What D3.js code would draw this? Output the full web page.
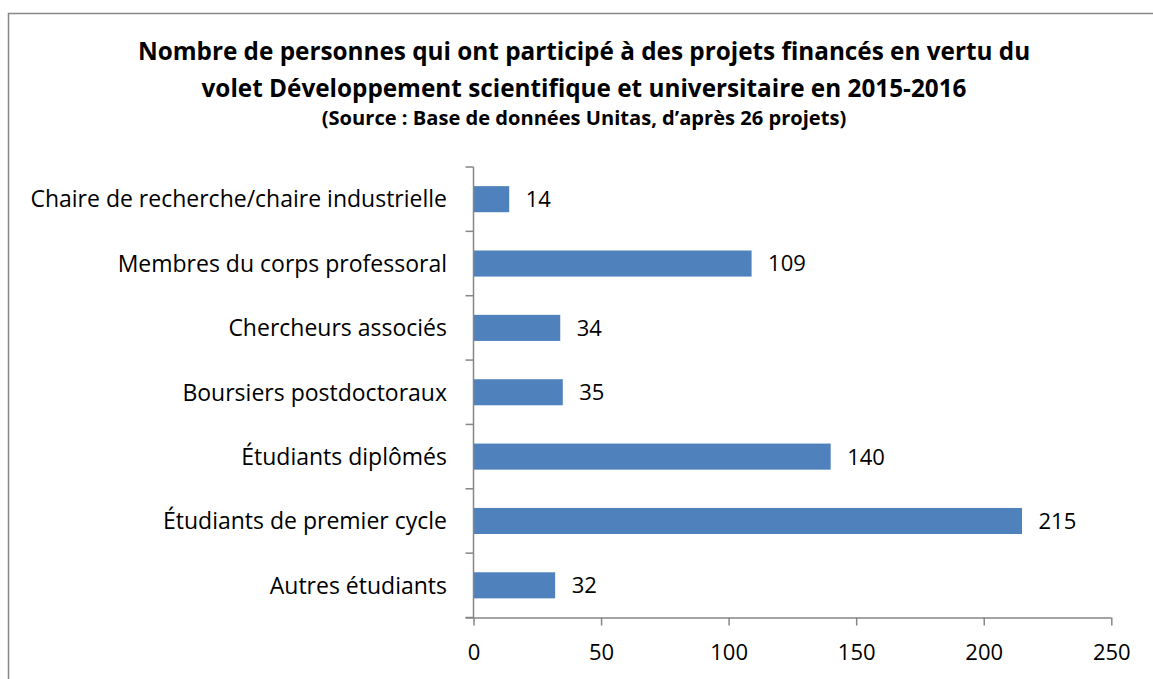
<!DOCTYPE html>
<html><head><meta charset="utf-8">
<script src="https://cdn.jsdelivr.net/npm/d3@7/dist/d3.min.js"></script>
<style>body{margin:0;background:#fff;} svg{display:block;}</style>
</head><body>
<svg id="c" width="1153" height="679"></svg>
<script>
const categories = ["Chaire de recherche/chaire industrielle","Membres du corps professoral","Chercheurs associés","Boursiers postdoctoraux","Étudiants diplômés","Étudiants de premier cycle","Autres étudiants"];
const values = [14,109,34,35,140,215,32];
const xTicks = [0,50,100,150,200,250];
const titleLines = ["Nombre de personnes qui ont participé à des projets financés en vertu du","volet Développement scientifique et universitaire en 2015-2016"];
const subtitle = "(Source : Base de données Unitas, d’après 26 projets)";

(function(){
const font = "'Open Sans', sans-serif";
const svg = d3.select("#c");
svg.append("rect").attr("x",8.5).attr("y",13.5).attr("width",1160).attr("height",700)
  .attr("fill","#fff").attr("stroke","#868686").attr("stroke-width",1.5);

const pLeft=473.5, pRight=1111.3, pTop=167, pBottom=617.5;
const x = d3.scaleLinear().domain([0,250]).range([pLeft,pRight]);
const y = d3.scaleBand().domain(categories).range([pTop,pBottom]).paddingInner(0.595).paddingOuter(0.2975);

svg.selectAll("rect.bar").data(values).join("rect").attr("class","bar")
  .attr("x",x(0)).attr("y",(d,i)=>y(categories[i]))
  .attr("width",d=>x(d)-x(0)).attr("height",y.bandwidth()).attr("fill","#4F81BD");

svg.selectAll("text.val").data(values).join("text").attr("class","val")
  .attr("x",d=>x(d)+16.5).attr("y",(d,i)=>y(categories[i])+y.bandwidth()/2)
  .attr("dy","0.36em").attr("font-family",font).attr("font-size",22).attr("fill","#000").text(d=>d);

const ya = svg.append("g");
ya.append("line").attr("x1",pLeft).attr("x2",pLeft).attr("y1",pTop).attr("y2",pBottom).attr("stroke","#868686").attr("stroke-width",1.5);
const step = y.step();
d3.range(categories.length+1).forEach(i=>{
  const yy = pTop + i*step;
  ya.append("line").attr("x1",pLeft-8).attr("x2",pLeft).attr("y1",yy).attr("y2",yy).attr("stroke","#868686").attr("stroke-width",1.5);
});
svg.selectAll("text.cat").data(categories).join("text").attr("class","cat")
  .attr("x",447).attr("y",d=>y(d)+y.bandwidth()/2).attr("dy","0.36em")
  .attr("text-anchor","end").attr("font-family",font).attr("font-size",23).attr("fill","#000").text(d=>d);

const xa = svg.append("g").attr("transform",`translate(0,${pBottom})`)
  .call(d3.axisBottom(x).tickValues(xTicks).tickSize(8).tickSizeOuter(0).tickPadding(19));
xa.select(".domain").attr("stroke","#868686").attr("stroke-width",1.5).attr("d",`M${pLeft-8},0.5H${pRight}`);
xa.selectAll(".tick line").attr("stroke","#868686").attr("stroke-width",1.5);
xa.selectAll(".tick text").attr("font-family",font).attr("font-size",22).attr("fill","#000");

titleLines.forEach((t,i)=>{
  svg.append("text").attr("x",584).attr("y",60+i*37).attr("text-anchor","middle")
    .attr("font-family",font).attr("font-weight","bold").attr("font-size",24.3).attr("fill","#000").text(t);
});
svg.append("text").attr("x",584).attr("y",125).attr("text-anchor","middle")
  .attr("font-family",font).attr("font-weight","bold").attr("font-size",20.1).attr("fill","#000").text(subtitle);
})();
</script>
</body></html>
